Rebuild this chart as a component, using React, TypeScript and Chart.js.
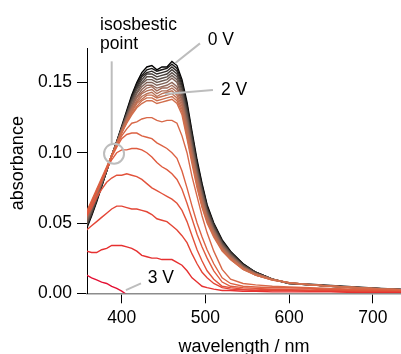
import React, { useEffect, useRef } from "react";
import { Chart, registerables } from "chart.js";

Chart.register(...registerables);

const FONT_FAMILY = "'Liberation Sans', Arial, Helvetica, sans-serif";

// wavelength grid (nm)
const WAVELENGTH = [358, 364, 370, 376, 382, 388, 394, 400, 406, 412, 418, 424, 430, 436, 442, 448, 454, 460, 466, 472, 478, 484, 490, 496, 502, 510, 520, 530, 545, 560, 580, 600, 625, 650, 680, 710, 735];

// dense bundle, 0 V -> 2 V
const ABS_B00 = [0.046, 0.055, 0.065, 0.076, 0.087, 0.098, 0.108, 0.119, 0.130, 0.141, 0.150, 0.157, 0.161, 0.162, 0.159, 0.161, 0.161, 0.165, 0.162, 0.152, 0.136, 0.115, 0.095, 0.078, 0.063, 0.050, 0.038, 0.030, 0.021, 0.015, 0.010, 0.0072, 0.0065, 0.0055, 0.0045, 0.0035, 0.0028];
const ABS_B01 = [0.047, 0.056, 0.066, 0.076, 0.087, 0.098, 0.108, 0.118, 0.129, 0.140, 0.149, 0.155, 0.159, 0.160, 0.158, 0.159, 0.160, 0.163, 0.160, 0.150, 0.134, 0.113, 0.093, 0.077, 0.062, 0.049, 0.037, 0.029, 0.021, 0.015, 0.010, 0.007, 0.006, 0.0052, 0.0042, 0.0033, 0.0026];
const ABS_B02 = [0.048, 0.056, 0.066, 0.077, 0.087, 0.098, 0.107, 0.118, 0.128, 0.139, 0.147, 0.154, 0.157, 0.158, 0.156, 0.157, 0.158, 0.161, 0.158, 0.148, 0.132, 0.112, 0.092, 0.075, 0.061, 0.049, 0.037, 0.029, 0.020, 0.015, 0.010, 0.0072, 0.0062, 0.005, 0.0041, 0.0031, 0.0025];
const ABS_B03 = [0.048, 0.057, 0.067, 0.077, 0.087, 0.098, 0.107, 0.118, 0.128, 0.138, 0.146, 0.152, 0.156, 0.156, 0.154, 0.155, 0.156, 0.159, 0.156, 0.146, 0.130, 0.110, 0.090, 0.074, 0.060, 0.048, 0.036, 0.029, 0.020, 0.015, 0.010, 0.007, 0.006, 0.0051, 0.004, 0.0032, 0.0024];
const ABS_B04 = [0.049, 0.058, 0.067, 0.078, 0.088, 0.098, 0.107, 0.117, 0.127, 0.137, 0.145, 0.150, 0.154, 0.154, 0.152, 0.153, 0.154, 0.157, 0.154, 0.144, 0.128, 0.108, 0.089, 0.073, 0.059, 0.047, 0.036, 0.028, 0.020, 0.014, 0.010, 0.0071, 0.0061, 0.0049, 0.0041, 0.003, 0.0025];
const ABS_B05 = [0.050, 0.059, 0.068, 0.078, 0.088, 0.098, 0.107, 0.117, 0.126, 0.136, 0.143, 0.149, 0.152, 0.152, 0.150, 0.151, 0.152, 0.155, 0.152, 0.142, 0.126, 0.106, 0.087, 0.072, 0.058, 0.046, 0.035, 0.028, 0.019, 0.014, 0.010, 0.007, 0.006, 0.005, 0.004, 0.0031, 0.0024];
const ABS_B06 = [0.051, 0.060, 0.069, 0.078, 0.088, 0.098, 0.107, 0.117, 0.126, 0.134, 0.142, 0.147, 0.150, 0.150, 0.148, 0.149, 0.150, 0.153, 0.150, 0.140, 0.124, 0.104, 0.086, 0.070, 0.057, 0.045, 0.034, 0.027, 0.019, 0.014, 0.010, 0.0072, 0.006, 0.0051, 0.0039, 0.003, 0.0025];
const ABS_B07 = [0.052, 0.060, 0.069, 0.079, 0.088, 0.098, 0.107, 0.116, 0.125, 0.133, 0.140, 0.145, 0.148, 0.148, 0.146, 0.147, 0.148, 0.150, 0.147, 0.138, 0.122, 0.103, 0.084, 0.069, 0.056, 0.045, 0.034, 0.027, 0.019, 0.014, 0.010, 0.0071, 0.0061, 0.005, 0.004, 0.0031, 0.0025];
const ABS_B08 = [0.053, 0.061, 0.070, 0.079, 0.088, 0.098, 0.107, 0.116, 0.124, 0.132, 0.139, 0.143, 0.146, 0.147, 0.144, 0.146, 0.146, 0.148, 0.145, 0.137, 0.120, 0.101, 0.083, 0.068, 0.055, 0.044, 0.033, 0.026, 0.018, 0.014, 0.010, 0.0073, 0.0062, 0.0051, 0.0041, 0.0032, 0.0026];
const ABS_B09 = [0.054, 0.062, 0.071, 0.080, 0.088, 0.098, 0.107, 0.115, 0.124, 0.131, 0.137, 0.142, 0.144, 0.145, 0.142, 0.144, 0.144, 0.146, 0.143, 0.135, 0.118, 0.099, 0.081, 0.066, 0.054, 0.043, 0.032, 0.026, 0.018, 0.014, 0.010, 0.0074, 0.0063, 0.0052, 0.0042, 0.0032, 0.0026];
const ABS_B10 = [0.055, 0.063, 0.071, 0.080, 0.089, 0.098, 0.106, 0.115, 0.123, 0.130, 0.136, 0.140, 0.142, 0.143, 0.140, 0.142, 0.143, 0.144, 0.141, 0.133, 0.116, 0.097, 0.080, 0.065, 0.053, 0.042, 0.032, 0.025, 0.018, 0.013, 0.0098, 0.0075, 0.0062, 0.0051, 0.0041, 0.0031, 0.0025];
const ABS_B11 = [0.055, 0.064, 0.072, 0.080, 0.089, 0.098, 0.106, 0.115, 0.122, 0.129, 0.135, 0.138, 0.141, 0.141, 0.139, 0.140, 0.141, 0.142, 0.139, 0.131, 0.114, 0.095, 0.078, 0.064, 0.052, 0.041, 0.031, 0.025, 0.018, 0.013, 0.0096, 0.0075, 0.0061, 0.005, 0.004, 0.003, 0.0025];
const ABS_B12 = [0.056, 0.064, 0.072, 0.081, 0.089, 0.098, 0.106, 0.114, 0.122, 0.128, 0.133, 0.137, 0.139, 0.139, 0.137, 0.138, 0.139, 0.140, 0.137, 0.129, 0.112, 0.094, 0.077, 0.062, 0.051, 0.041, 0.031, 0.024, 0.017, 0.013, 0.0095, 0.0076, 0.006, 0.0051, 0.004, 0.003, 0.0025];
const ABS_B13 = [0.057, 0.065, 0.073, 0.081, 0.089, 0.098, 0.106, 0.114, 0.121, 0.127, 0.132, 0.135, 0.137, 0.137, 0.135, 0.136, 0.137, 0.138, 0.135, 0.127, 0.110, 0.092, 0.075, 0.061, 0.050, 0.040, 0.030, 0.024, 0.017, 0.013, 0.0095, 0.0075, 0.006, 0.005, 0.004, 0.003, 0.0025];

// separated curves, 2 V -> 3 V
const ABS_SA = [0.058, 0.066, 0.074, 0.082, 0.090, 0.098, 0.105, 0.112, 0.117, 0.121, 0.122, 0.124, 0.125, 0.125, 0.123, 0.122, 0.123, 0.123, 0.121, 0.112, 0.100, 0.083, 0.069, 0.055, 0.043, 0.030, 0.017, 0.010, 0.007, 0.006, 0.005, 0.0045, 0.004, 0.0035, 0.003, 0.0025, 0.002];
const ABS_SB = [0.057, 0.065, 0.073, 0.081, 0.089, 0.097, 0.104, 0.110, 0.113, 0.114, 0.114, 0.112, 0.111, 0.110, 0.107, 0.105, 0.103, 0.100, 0.096, 0.087, 0.075, 0.062, 0.050, 0.040, 0.031, 0.021, 0.011, 0.007, 0.005, 0.0045, 0.004, 0.004, 0.0035, 0.003, 0.0025, 0.002, 0.002];
const ABS_SC = [0.056, 0.064, 0.072, 0.080, 0.088, 0.095, 0.100, 0.102, 0.102, 0.103, 0.103, 0.102, 0.100, 0.097, 0.093, 0.090, 0.088, 0.085, 0.081, 0.074, 0.064, 0.053, 0.042, 0.033, 0.025, 0.016, 0.008, 0.005, 0.004, 0.0035, 0.003, 0.003, 0.003, 0.0025, 0.002, 0.002, 0.0015];
const ABS_SD = [0.055, 0.061, 0.068, 0.074, 0.079, 0.082, 0.084, 0.084, 0.085, 0.084, 0.083, 0.081, 0.078, 0.075, 0.073, 0.071, 0.069, 0.067, 0.064, 0.059, 0.051, 0.041, 0.031, 0.023, 0.016, 0.010, 0.005, 0.004, 0.003, 0.003, 0.0025, 0.0025, 0.002, 0.002, 0.0015, 0.0015, 0.001];
const ABS_SE = [0.045, 0.048, 0.051, 0.054, 0.057, 0.060, 0.062, 0.062, 0.061, 0.060, 0.060, 0.059, 0.058, 0.056, 0.053, 0.052, 0.051, 0.048, 0.045, 0.041, 0.036, 0.028, 0.021, 0.015, 0.011, 0.007, 0.004, 0.003, 0.0025, 0.002, 0.002, 0.002, 0.0015, 0.0015, 0.001, 0.001, 0.001];
const ABS_SF = [0.030, 0.029, 0.029, 0.031, 0.032, 0.034, 0.034, 0.034, 0.033, 0.032, 0.030, 0.027, 0.026, 0.025, 0.025, 0.024, 0.024, 0.024, 0.022, 0.020, 0.016, 0.011, 0.008, 0.005, 0.004, 0.003, 0.002, 0.002, 0.0015, 0.0015, 0.001, 0.001, 0.001, 0.001, 0.0005, 0.0005, 0.0005];
const ABS_SG = [0.013, 0.011, 0.0095, 0.008, 0.007, 0.005, 0.0035, 0.0015, -0.001, -0.002, -0.002, -0.002, -0.002, -0.002, -0.002, -0.002, -0.002, -0.002, -0.002, -0.002, -0.002, -0.002, -0.002, -0.002, -0.002, -0.002, -0.002, -0.002, -0.002, -0.002, -0.002, -0.002, -0.002, -0.002, -0.002, -0.002, -0.002];

const SERIES = [ABS_B00, ABS_B01, ABS_B02, ABS_B03, ABS_B04, ABS_B05, ABS_B06, ABS_B07, ABS_B08, ABS_B09, ABS_B10, ABS_B11, ABS_B12, ABS_B13, ABS_SA, ABS_SB, ABS_SC, ABS_SD, ABS_SE, ABS_SF, ABS_SG];
const SERIES_LABELS = ["0 V", "0.15 V", "0.3 V", "0.45 V", "0.6 V", "0.75 V", "0.9 V", "1.05 V", "1.2 V", "1.35 V", "1.5 V", "1.65 V", "1.8 V", "2 V", "2.15 V", "2.3 V", "2.45 V", "2.6 V", "2.75 V", "2.9 V", "3 V"];
const SERIES_COLORS = ["#000000", "#181615", "#2e2926", "#443c38", "#5a4e48", "#6c5a52", "#7e6055", "#8f6557", "#a06a58", "#ae6e58", "#b87055", "#c27052", "#ca6f4f", "#d16e4c", "#d86848", "#dc6243", "#df5b3f", "#e2523b", "#e44536", "#e63030", "#e41034"];

const X_TICKS = [400, 500, 600, 700];
const Y_TICKS = [0, 0.05, 0.1, 0.15];

// annotation anchors in data units (nm, absorbance)
const ANNOT_LINES = [
  { from: [388.0, 0.165], to: [388.0, 0.1065] },
  { from: [493.5, 0.1778], to: [463.7, 0.1636] },
  { from: [509.0, 0.1446], to: [451.7, 0.1418] },
  { from: [423.0, 0.0071], to: [405.0, 0.0023] },
];
const ANNOT_TEXTS = [
  { text: "isosbestic", at: [374.1, 0.1873] },
  { text: "point", at: [374.1, 0.1738] },
  { text: "0 V", at: [502.7, 0.1766] },
  { text: "2 V", at: [518.6, 0.1411] },
  { text: "3 V", at: [431.1, 0.0075] },
];
const ISOSBESTIC = { nm: 390.8, abs: 0.0993 };

const annotationPlugin = {
  id: "spectraAnnotations",
  afterDraw(chart: any) {
    const { ctx } = chart;
    const xs = chart.scales.x;
    const ys = chart.scales.y;
    const px = (v: number) => xs.getPixelForValue(v);
    const py = (v: number) => ys.getPixelForValue(v);
    ctx.save();
    ctx.strokeStyle = "#bdbdbd";
    ctx.lineWidth = 2;
    ctx.lineCap = "butt";
    ANNOT_LINES.forEach((l) => {
      ctx.beginPath();
      ctx.moveTo(px(l.from[0]), py(l.from[1]));
      ctx.lineTo(px(l.to[0]), py(l.to[1]));
      ctx.stroke();
    });
    ctx.beginPath();
    ctx.arc(px(ISOSBESTIC.nm), py(ISOSBESTIC.abs), 10, 0, Math.PI * 2);
    ctx.stroke();
    ctx.fillStyle = "#000";
    ctx.font = `17.5px ${FONT_FAMILY}`;
    ctx.textAlign = "left";
    ctx.textBaseline = "alphabetic";
    ANNOT_TEXTS.forEach((t) => {
      ctx.fillText(t.text, px(t.at[0]), py(t.at[1]));
    });
    ctx.restore();
  },
};

export default function App() {
  const ref = useRef<HTMLCanvasElement>(null);
  useEffect(() => {
    const canvas = ref.current;
    if (!canvas) return;
    const tickFont = { family: FONT_FAMILY, size: 17.5 };
    const chart = new Chart(canvas, {
      type: "line",
      data: {
        datasets: SERIES.map((vals, i) => ({
          label: SERIES_LABELS[i],
          data: vals.map((v, j) => ({ x: WAVELENGTH[j], y: v })),
          borderColor: SERIES_COLORS[i],
          backgroundColor: SERIES_COLORS[i],
          borderWidth: 1.4,
          pointRadius: 0,
          fill: false,
          tension: 0,
          order: SERIES.length - i,
        })),
      },
      options: {
        responsive: false,
        animation: false,
        devicePixelRatio: 1,
        events: [],
        layout: { padding: { top: 48, left: 0, right: 0, bottom: 0 } },
        plugins: { legend: { display: false }, tooltip: { enabled: false } },
        scales: {
          x: {
            type: "linear",
            min: 358.5,
            max: 733.7,
            afterBuildTicks: (s: any) => {
              s.ticks = X_TICKS.map((v) => ({ value: v }));
            },
            afterFit: (s: any) => {
              s.height = 60.7;
            },
            grid: { drawOnChartArea: false, drawTicks: true, tickLength: 10, color: "#000", lineWidth: 1 },
            border: { display: true, color: "#8c8c8c", width: 1.5 },
            ticks: { color: "#000", font: tickFont, padding: 4, maxRotation: 0, callback: (v: any) => String(v) },
            title: {
              display: true,
              text: "wavelength / nm",
              color: "#000",
              font: { family: FONT_FAMILY, size: 18, lineHeight: 0.74 },
              padding: 0,
            },
          },
          y: {
            type: "linear",
            min: 0,
            max: 0.1745,
            afterBuildTicks: (s: any) => {
              s.ticks = Y_TICKS.map((v) => ({ value: v }));
            },
            afterFit: (s: any) => {
              s.width = 87;
            },
            grid: { drawOnChartArea: false, drawTicks: true, tickLength: 10, color: "#000", lineWidth: 1 },
            border: { display: true, color: "#000", width: 1 },
            ticks: { color: "#000", font: tickFont, padding: 5, callback: (v: any) => Number(v).toFixed(2) },
            title: {
              display: true,
              text: "   absorbance",
              color: "#000",
              font: { family: FONT_FAMILY, size: 18 },
              padding: { top: 7, bottom: 0 },
            },
          },
        },
      },
      plugins: [annotationPlugin],
    } as any);
    return () => chart.destroy();
  }, []);
  return (
    <div style={{ position: "absolute", left: 0, top: 0, width: 401, height: 354, background: "#fff" }}>
      <canvas ref={ref} width={401} height={354} style={{ display: "block", width: 401, height: 354 }} />
    </div>
  );
}
